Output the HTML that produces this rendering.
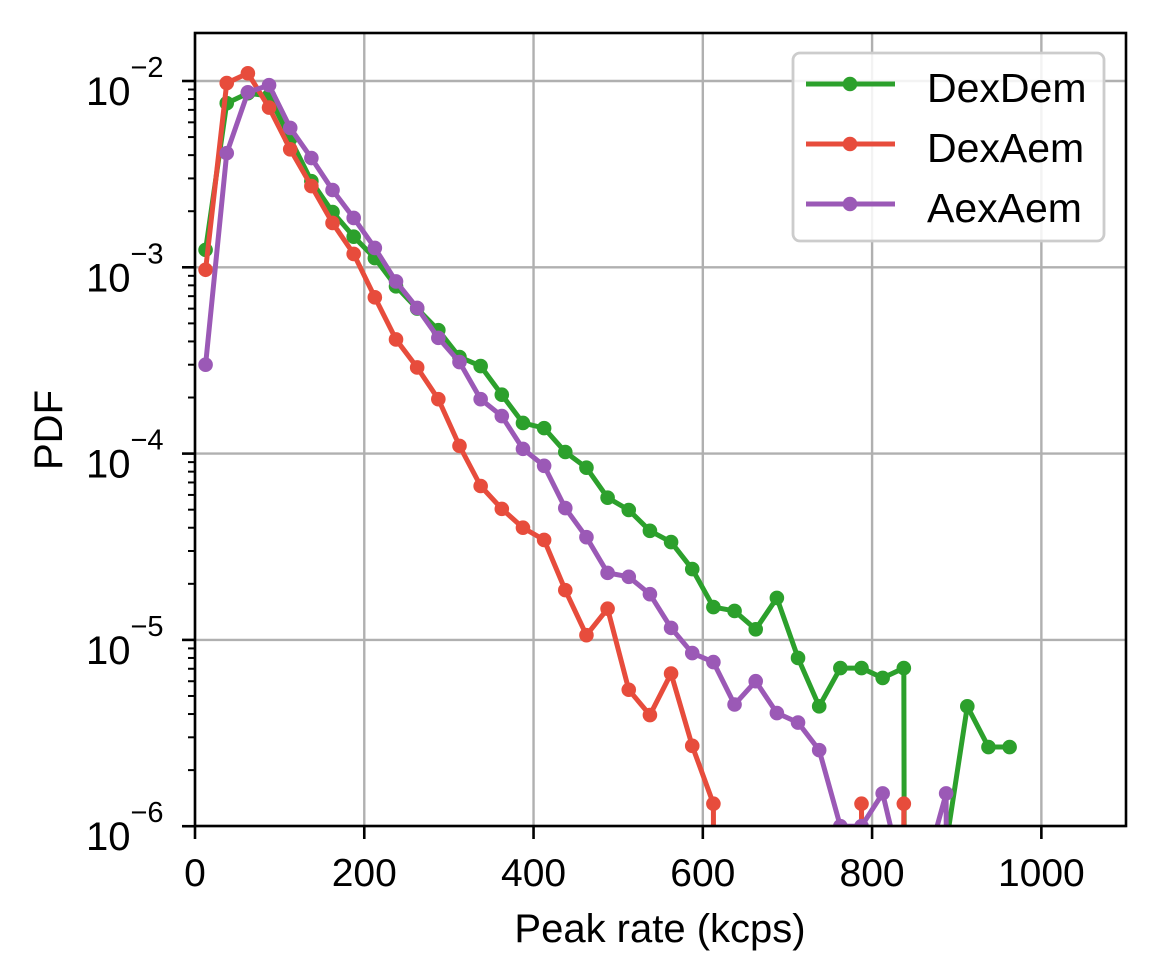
<!DOCTYPE html>
<html><head><meta charset="utf-8"><style>
html,body{margin:0;padding:0;background:#fff;overflow:hidden;width:1158px;height:979px}
svg{display:block}
svg text{font-family:"Liberation Sans",Arial,sans-serif;fill:#000}
</style></head><body>
<svg id="chart" width="1158" height="979" viewBox="0 0 1158 979" xmlns="http://www.w3.org/2000/svg">
<defs><clipPath id="plotclip"><rect x="195" y="33" width="931" height="793"/></clipPath></defs>
<rect x="0" y="0" width="1158" height="979" fill="#fff"/>
<g id="grid"></g>
<g id="ticks"></g>
<g id="series" clip-path="url(#plotclip)"></g>
<rect x="195" y="33" width="931" height="793" fill="none" stroke="#000" stroke-width="2.6"/>
<text x="660" y="942" style="font-size:40px" text-anchor="middle">Peak rate (kcps)</text>
<text x="0" y="0" style="font-size:40px" text-anchor="middle" transform="translate(62,430) rotate(-90)">PDF</text>
<g id="legend">
<rect x="793" y="53" width="311" height="188" rx="7" fill="#fff" fill-opacity="0.85" stroke="#ccc" stroke-width="2.8"/>
</g>
</svg>
<script>
const xCenters=[12.5,37.5,62.5,87.5,112.5,137.5,162.5,187.5,212.5,237.5,262.5,287.5,312.5,337.5,362.5,387.5,412.5,437.5,462.5,487.5,512.5,537.5,562.5,587.5,612.5,637.5,662.5,687.5,712.5,737.5,762.5,787.5,812.5,837.5,862.5,887.5,912.5,937.5,962.5];
const dexDem=[1.24e-3,7.6e-3,8.6e-3,8.3e-3,4.9e-3,2.9e-3,1.98e-3,1.46e-3,1.12e-3,7.9e-4,6.0e-4,4.6e-4,3.3e-4,2.95e-4,2.07e-4,1.46e-4,1.37e-4,1.02e-4,8.4e-5,5.8e-5,4.98e-5,3.85e-5,3.35e-5,2.4e-5,1.5e-5,1.43e-5,1.14e-5,1.68e-5,8.0e-6,4.4e-6,7.06e-6,7.06e-6,6.25e-6,7.06e-6,0,8e-7,4.4e-6,2.66e-6,2.66e-6];
const dexAem=[9.7e-4,9.75e-3,1.1e-2,7.2e-3,4.3e-3,2.73e-3,1.73e-3,1.18e-3,6.9e-4,4.1e-4,2.9e-4,1.96e-4,1.1e-4,6.7e-5,5.05e-5,4.0e-5,3.44e-5,1.85e-5,1.06e-5,1.47e-5,5.4e-6,3.95e-6,6.6e-6,2.7e-6,1.32e-6,0,0,0,0,0,0,1.32e-6,0,1.32e-6,0];
const aexAem=[3.0e-4,4.1e-3,8.7e-3,9.5e-3,5.6e-3,3.86e-3,2.6e-3,1.84e-3,1.27e-3,8.4e-4,6.05e-4,4.18e-4,3.1e-4,1.96e-4,1.59e-4,1.06e-4,8.6e-5,5.1e-5,3.56e-5,2.29e-5,2.18e-5,1.76e-5,1.16e-5,8.5e-6,7.6e-6,4.5e-6,6.0e-6,4.05e-6,3.6e-6,2.56e-6,1.0e-6,1.0e-6,1.5e-6,5e-7,5.8e-7,1.5e-6,0];
const seriesNames=["DexDem","DexAem","AexAem"];
const xTicks=[0,200,400,600,800,1000];
const yTickExps=[-2,-3,-4,-5,-6];

const NS="http://www.w3.org/2000/svg";
const X0=195,X1=1126,XMAX=1100;
function xs(v){return X0+v/XMAX*(X1-X0);}
function ys(v){const l=v>0?Math.log10(v):-60;return 81+(-2-l)*186.3;}
function mk(tag,attrs,parent){const e=document.createElementNS(NS,tag);for(const k in attrs)e.setAttribute(k,attrs[k]);parent.appendChild(e);return e;}
const grid=document.getElementById('grid'),ticks=document.getElementById('ticks'),ser=document.getElementById('series'),leg=document.getElementById('legend');
xTicks.forEach(t=>{
  const x=xs(t);
  const g=mk('line',{x1:x,x2:x,y1:33,y2:826,stroke:'#b0b0b0','stroke-width':2.4},grid);
  
  
  mk('line',{x1:x,x2:x,y1:826,y2:839,stroke:'#000','stroke-width':2.6},ticks);
  const tx=mk('text',{x:x,y:886,style:'font-size:39px','text-anchor':'middle'},ticks);
  tx.textContent=t;
  
  
});
yTickExps.forEach(e=>{
  const y=ys(Math.pow(10,e));
  const g=mk('line',{x1:195,x2:1126,y1:y,y2:y,stroke:'#b0b0b0','stroke-width':2.4},grid);
  
  
  mk('line',{x1:182,x2:195,y1:y,y2:y,stroke:'#000','stroke-width':2.6},ticks);
  const tx=mk('text',{x:86,y:y+24,style:'font-size:40px'},ticks);
  tx.innerHTML='10<tspan style="font-size:29px" dy="-28">\u2212'+(-e)+'</tspan>';
  
  
});
for(let e=-6;e<=-2;e++){for(let m=2;m<=9;m++){const y=ys(m*Math.pow(10,e));if(y<33)continue;mk('line',{x1:188,x2:195,y1:y,y2:y,stroke:'#000','stroke-width':2},ticks);}}
const colors=["#2ca02c","#e74c3c","#9b59b6"];
[dexDem,dexAem,aexAem].forEach((arr,i)=>{
  const pts=arr.map((v,j)=>[xs(xCenters[j]),ys(v)]);
  const p=mk('polyline',{points:pts.map(p=>p.join(',')).join(' '),fill:'none',stroke:colors[i],'stroke-width':5,'stroke-linejoin':'round'},ser);
  
  
  pts.forEach((pt,j)=>{if(arr[j]<=0)return;const c=mk('circle',{cx:pt[0],cy:pt[1],r:7.3,fill:colors[i]},ser);
    
    });
  const ly=84+i*60;
  mk('line',{x1:806,x2:895,y1:ly,y2:ly,stroke:colors[i],'stroke-width':5},leg);
  mk('circle',{cx:850,cy:ly,r:7.3,fill:colors[i]},leg);
  const t=mk('text',{x:927,y:ly+18,style:'font-size:41px'},leg);
  t.textContent=seriesNames[i];
  
  
});
</script>
</body></html>
